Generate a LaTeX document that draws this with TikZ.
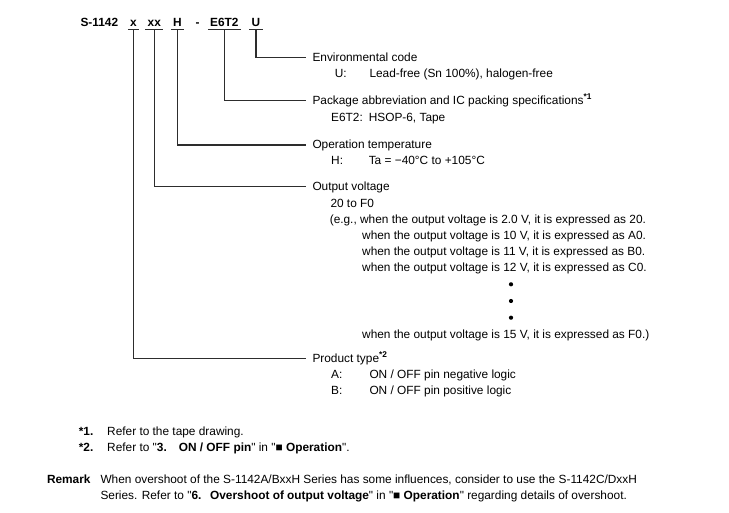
\documentclass[tikz,border=0pt]{standalone}
\usepackage{fontspec}
\setmainfont{Liberation Sans}
\newcommand{\bodysize}{\fontsize{8.9pt}{10.5pt}\selectfont}
\newcommand{\dq}{\textquotedbl}

\tikzset{every picture/.style={line width=0.75pt}}
\tikzset{
  part/.style={anchor=base, inner xsep=1.3pt, inner ysep=1.9pt, text depth=0pt, font={\bodysize\bfseries}},
  head/.style={anchor=base west, inner xsep=4.5pt, inner ysep=0pt, text height=6pt, text depth=0pt, font=\bodysize},
  txt/.style={anchor=base west, inner sep=0pt, font=\bodysize},
  btxt/.style={anchor=base west, inner sep=0pt, font={\bodysize\bfseries}},
  lead/.style={draw={rgb, 255:red, 45; green, 45; blue, 45}, line width=0.85pt},
}

\begin{document}
\begin{tikzpicture}[x=0.75pt,y=0.75pt,yscale=-1,xscale=1]
\useasboundingbox (0,0) rectangle (729,513);

% Text Node
\node (ttl) at (80,26.5) [btxt] {S-1142};
% Text Node
\node (partx) at (133.3,26.5) [part] {x};
% Text Node
\node (partxx) at (154.3,26.5) [part] {xx};
% Text Node
\node (partH) at (177.5,26.5) [part] {H};
% Text Node
\node (dash) at (197.5,26.5) [part] {-};
% Text Node
\node (partE) at (224.3,26.5) [part] {E6T2};
% Text Node
\node (partU) at (256,26.5) [part] {U};

%Shape: Underlines
\draw [lead] (partx.south west) -- (partx.south east) ;
\draw [lead] (partxx.south west) -- (partxx.south east) ;
\draw [lead] (partH.south west) -- (partH.south east) ;
\draw [lead] (partE.south west) -- (partE.south east) ;
\draw [lead] (partU.south west) -- (partU.south east) ;

% Text Node
\node (hdrEnv) at (306,61.7) [head] {Environmental code};
% Text Node
\node (hdrPkg) at (306,104.7) [head] {Package abbreviation and IC packing specifications\textsuperscript{\bfseries *1}};
% Text Node
\node (hdrTemp) at (306,149) [head] {Operation temperature};
% Text Node
\node (hdrVolt) at (306,190.7) [head] {Output voltage};
% Text Node
\node (hdrType) at (306,362.3) [head] {Product type\textsuperscript{\bfseries *2}};

%Shape: Leader lines
\draw [lead] (partU.south) |- (hdrEnv.west) ;
\draw [lead] (partE.south) |- (hdrPkg.west) ;
\draw [lead] (partH.south) |- (hdrTemp.west) ;
\draw [lead] (partxx.south) |- (hdrVolt.west) ;
\draw [lead] (partx.south) |- (hdrType.west) ;

% Text Node
\node (codeU) at (334.3,77.7) [txt] {U:};
\node (descU) at (369,77.7) [txt] {Lead-free (Sn 100\%), halogen-free};
% Text Node
\node (codeE) at (330.7,121.3) [txt] {E6T2:};
\node (descE) at (368.3,121.3) [txt] {HSOP-6, Tape};
% Text Node
\node (codeH) at (330.7,165) [txt] {H:};
\node (descH) at (368.3,165) [txt] {Ta = −40°C to +105°C};
% Text Node
\node (voltRange) at (330,207.3) [txt] {20 to F0};
\node (voltEx) at (329.3,223.3) [txt] {(e.g., when the output voltage is 2.0 V, it is expressed as 20.};
\node (voltA) at (361.7,239.3) [txt] {when the output voltage is 10 V, it is expressed as A0.};
\node (voltB) at (361.7,255.3) [txt] {when the output voltage is 11 V, it is expressed as B0.};
\node (voltC) at (361.7,271.3) [txt] {when the output voltage is 12 V, it is expressed as C0.};
\node (voltF) at (361.7,338.3) [txt] {when the output voltage is 15 V, it is expressed as F0.)};

%Shape: Dots
\fill (511,284.3) circle (2.1) ;
\fill (511,301) circle (2.1) ;
\fill (511,317.7) circle (2.1) ;

% Text Node
\node (codeA) at (330.7,379) [txt] {A:};
\node (descA) at (369,379) [txt] {ON / OFF pin negative logic};
\node (codeB) at (330.7,395) [txt] {B:};
\node (descB) at (369,395) [txt] {ON / OFF pin positive logic};

% Text Node
\node (noteOne) at (78.3,435.7) [btxt] {*1.};
\node (noteOneTxt) at (106.7,435.7) [txt] {Refer to the tape drawing.};
\node (noteTwo) at (78.3,451) [btxt] {*2.};
\node (noteTwoTxt) at (106.7,451) [txt] {Refer to \dq\textbf{3.}\hspace{9pt}\textbf{ON / OFF pin}\dq{} in \dq\textbf{■ Operation}\dq.};

% Text Node
\node (remark) at (46.5,483.3) [btxt] {Remark};
\node (remarkA) at (100,483.3) [txt] {When overshoot of the S-1142A/BxxH Series has some influences, consider to use the S-1142C/DxxH};
\node (remarkB) at (100,499) [txt] {Series. Refer to \dq\textbf{6.}\hspace{6.5pt}\textbf{Overshoot of output voltage}\dq{} in \dq\textbf{■ Operation}\dq{} regarding details of overshoot.};

\end{tikzpicture}
\end{document}
